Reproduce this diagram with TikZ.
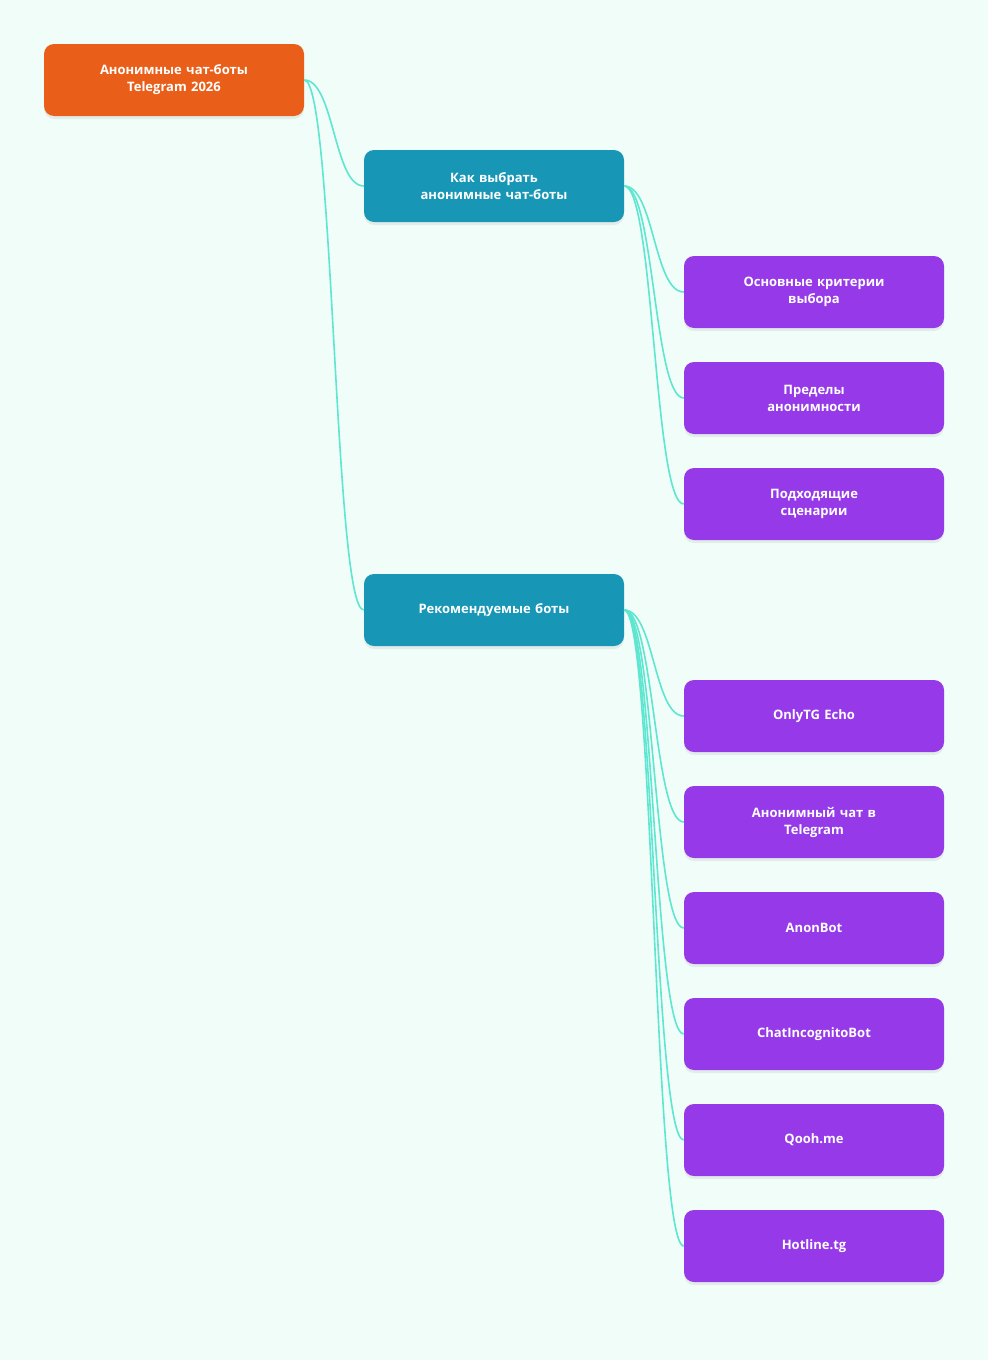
\documentclass[tikz,border=0pt]{standalone}
\usepackage{fontspec}
\setmainfont{Open Sans}
\usetikzlibrary{shadows}
\definecolor{bg}{HTML}{F0FDF9}
\definecolor{rootc}{HTML}{E95F1A}
\definecolor{midc}{HTML}{1797B5}
\definecolor{leafc}{HTML}{9639E8}
\definecolor{edgec}{HTML}{5EE6D0}
\begin{document}
\begin{tikzpicture}[x=1pt,y=-1pt,
 box/.style={rounded corners=10pt,minimum width=260pt,minimum height=72pt,text width=200pt,align=center,text=white,font=\bfseries\fontsize{13}{17}\selectfont,inner sep=0pt,drop shadow={opacity=0.12,shadow xshift=0pt,shadow yshift=-3pt}},
 root/.style={box,fill=rootc},
 mid/.style={box,fill=midc},
 leaf/.style={box,fill=leafc},
 link/.style={draw=edgec,line width=1.6pt}]
\fill[bg] (0,0) rectangle (988,1360);
\useasboundingbox (0,0) rectangle (988,1360);
\node[root] (r) at (174,80) {Анонимные чат-боты\\Telegram 2026};
\node[mid] (a) at (494,186) {Как выбрать\\анонимные чат-боты};
\node[mid] (b) at (494,610) {Рекомендуемые боты};
\node[leaf] (a1) at (814,292) {Основные критерии\\выбора};
\node[leaf] (a2) at (814,398) {Пределы\\анонимности};
\node[leaf] (a3) at (814,504) {Подходящие\\сценарии};
\node[leaf] (b1) at (814,716) {OnlyTG Echo};
\node[leaf] (b2) at (814,822) {Анонимный чат в\\Telegram};
\node[leaf] (b3) at (814,928) {AnonBot};
\node[leaf] (b4) at (814,1034) {ChatIncognitoBot};
\node[leaf] (b5) at (814,1140) {Qooh.me};
\node[leaf] (b6) at (814,1246) {Hotline.tg};
\begin{scope}[on background layer/.try]
\foreach \p/\c in {r/a,r/b,a/a1,a/a2,a/a3,b/b1,b/b2,b/b3,b/b4,b/b5,b/b6}
  \draw[link] (\p.east) .. controls ([xshift=30pt]\p.east) and ([xshift=-30pt]\c.west) .. (\c.west);
\end{scope}
\end{tikzpicture}
\end{document}
